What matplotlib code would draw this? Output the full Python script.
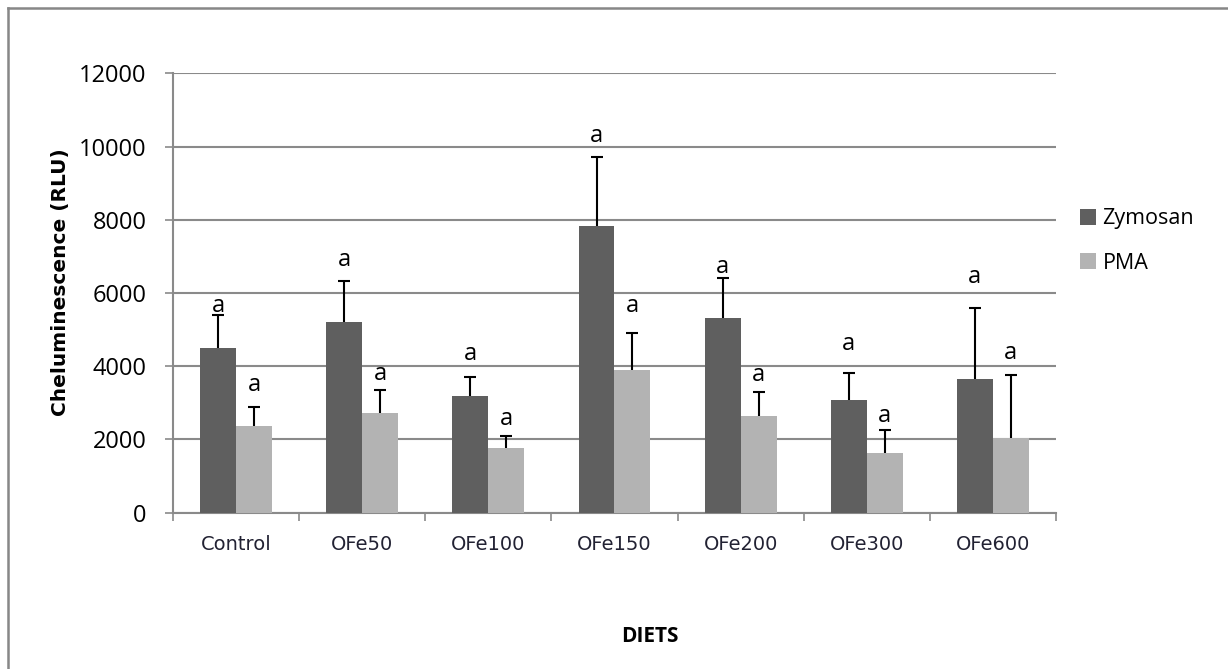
import matplotlib
matplotlib.use("Agg")
import numpy as np
import matplotlib.pyplot as plt
from matplotlib.lines import Line2D
from matplotlib.patches import Patch

# data
diets = ["Control", "OFe50", "OFe100", "OFe150", "OFe200", "OFe300", "OFe600"]
zymosan = [4510, 5200, 3180, 7840, 5320, 3070, 3650]
zymosan_err = [900, 1130, 530, 1870, 1080, 750, 1930]
pma = [2380, 2730, 1760, 3900, 2650, 1630, 2050]
pma_err = [500, 620, 330, 1000, 650, 620, 1700]
# significance letters and the height they sit at
zym_letters = ["a", "a", "a", "a", "a", "a", "a"]
zym_letter_y = [5640, 6890, 4330, 10300, 6710, 4600, 6440]
pma_letters = ["a", "a", "a", "a", "a", "a", "a"]
pma_letter_y = [3480, 3800, 2570, 5640, 3750, 2640, 4350]

zym_color = "#5f5f5f"
pma_color = "#b3b3b3"
grid_color = "#8a8a8a"

fig = plt.figure(figsize=(12.28, 6.69), dpi=100)
ax = fig.add_axes([0.1409, 0.2336, 0.7190, 0.6568])

x = np.arange(len(diets))
w = 0.285
ax.bar(x - w / 2, zymosan, w, color=zym_color, zorder=3)
ax.bar(x + w / 2, pma, w, color=pma_color, zorder=3)

# upper error bars only, hide the cap at the bar top
for xs, vals, errs in [(x - w / 2, zymosan, zymosan_err), (x + w / 2, pma, pma_err)]:
    eb = ax.errorbar(xs, vals, yerr=[np.zeros(len(x)), errs], fmt="none",
                     ecolor="black", elinewidth=1.5, capsize=4.3, capthick=1.5, zorder=4)
    eb[1][0].set_visible(False)

for i in range(len(x)):
    ax.text(x[i] - w / 2, zym_letter_y[i], zym_letters[i], ha="center", va="center",
            fontsize=17, family="Open Sans", zorder=5)
    ax.text(x[i] + w / 2, pma_letter_y[i], pma_letters[i], ha="center", va="center",
            fontsize=17, family="Open Sans", zorder=5)

ax.set_xlim(-0.5, len(diets) - 0.5)
ax.set_ylim(0, 12000)
ax.set_yticks(np.arange(0, 12001, 2000))
ax.yaxis.grid(True, color=grid_color, linewidth=1.5, zorder=0)
ax.set_axisbelow(True)

# category boundaries as ticks, labels at centres
ax.set_xticks(np.arange(-0.5, len(diets), 1.0))
ax.set_xticklabels([])
ax.set_xticks(x, minor=True)
ax.set_xticklabels(diets, minor=True, fontsize=14, family="DejaVu Sans", color="#222233")
ax.tick_params(axis="x", which="major", length=6, width=1.2, color=grid_color, direction="out")
ax.tick_params(axis="x", which="minor", length=0, pad=16)
ax.tick_params(axis="y", length=6, width=1.2, color=grid_color, direction="out", pad=13,
               labelsize=17)
for lab in ax.get_yticklabels():
    lab.set_family("Open Sans")

for s in ["top", "right"]:
    ax.spines[s].set_visible(False)
for s in ["left", "bottom"]:
    ax.spines[s].set_color(grid_color)
    ax.spines[s].set_linewidth(1.5)

fig.text(61 / 1228, 1 - 282 / 669, "Cheluminescence (RLU)", rotation=90, ha="center",
         va="center", fontsize=14.5, fontweight="bold", family="DejaVu Sans")
fig.text(650 / 1228, 1 - 636 / 669, "DIETS", ha="center", va="center", fontsize=15,
         fontweight="bold", family="Open Sans")

handles = [Patch(facecolor=zym_color), Patch(facecolor=pma_color)]
fig.legend(handles, ["Zymosan", "PMA"], loc="center left",
           bbox_to_anchor=(1080 / 1228, 1 - 241 / 669), frameon=False,
           prop={"family": "Open Sans", "size": 15.5}, handlelength=0.75, handleheight=0.75,
           handletextpad=0.3, labelspacing=1.1, borderpad=0, borderaxespad=0)

# outer frame: only top and left edges visible
fig.add_artist(Line2D([8 / 1228, 8 / 1228], [0, 1 - 8 / 669], transform=fig.transFigure,
                      color="#878787", linewidth=1.8))
fig.add_artist(Line2D([8 / 1228, 1], [1 - 8 / 669, 1 - 8 / 669], transform=fig.transFigure,
                      color="#878787", linewidth=1.8))

fig.savefig("out.png", dpi=100)
